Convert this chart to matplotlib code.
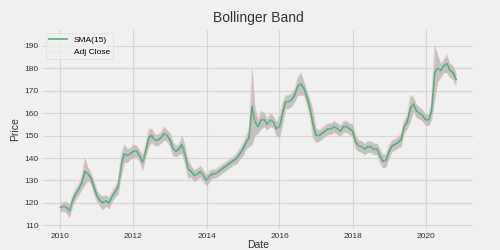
import numpy as np
import pandas as pd
import matplotlib
matplotlib.use('Agg')
import matplotlib.pyplot as plt

BG = '#f0f0f0'
GREEN = '#55ad7a'

# monthly values, Jan 2010 .. Nov 2020
months = pd.date_range('2010-01-01', '2020-11-01', freq='MS')

sma = [118, 118.5, 118, 116.5, 121, 124, 126, 129, 134, 133, 131, 127,
       123, 121, 120, 121, 120, 123, 125, 127, 137, 142, 141, 142,
       143, 143, 141, 138, 143, 149, 150, 148, 148, 149, 151, 150,
       148, 144, 143, 144, 146, 141, 135, 134, 132, 133, 134, 132,
       130, 132, 133, 133, 134, 135, 136, 137, 138, 139, 140, 142,
       144, 147, 149, 163, 156, 154, 157, 157, 155, 157, 156, 153,
       154, 160, 165, 165, 166, 168, 172, 173, 171, 167, 162, 155,
       150, 150, 151, 152, 153, 153, 154, 153, 152, 154, 154, 153,
       152, 147, 145.5, 145, 144, 145, 145, 144, 144, 141, 138.5, 139,
       143, 145.5, 146, 147, 148, 154, 156, 162, 164, 161, 160, 159,
       157, 157, 161, 178, 180, 179, 181, 182, 179, 178, 175]

close = [117, 119, 117, 117, 123, 125, 127, 131, 136, 132, 129, 125,
         122, 120, 118, 122, 121, 124, 126, 125, 140, 143, 140, 143,
         144, 142, 140, 137, 146, 151, 152, 147, 149, 150, 152, 149,
         146, 143, 144, 145, 148, 139, 134, 133, 131, 134, 135, 131,
         129, 133, 134, 132, 135, 136, 137, 138, 139, 140, 141, 143,
         146, 148, 151, 170, 154, 155, 158, 156, 154, 158, 155, 151,
         156, 163, 166, 164, 167, 170, 174, 172, 169, 165, 159, 151,
         149, 151, 152, 153, 154, 152, 155, 152, 153, 155, 153, 152,
         150, 145, 146, 144, 145, 146, 144, 145, 143, 139, 137, 141,
         145, 146, 147, 148, 151, 156, 158, 166, 163, 160, 161, 158,
         156, 158, 166, 184, 179, 180, 183, 181, 177, 176, 173]

# half width of the band (2 std)
band = [2, 2, 2.5, 3, 2.5, 2.5, 2.5, 3, 6, 3, 2.5, 3,
        2.5, 2.5, 3, 2.5, 2.5, 2.5, 2.5, 3, 5, 4, 3, 2.5,
        3, 2.5, 2.5, 3.5, 3, 4, 3, 2.5, 2.5, 2.5, 3, 2.5,
        3, 3, 2.5, 2.5, 4, 4, 4, 2.5, 2.5, 2.5, 2.5, 2.5,
        2.5, 2.5, 2, 2, 2, 2, 2, 2, 2, 2, 2.5, 2.5,
        3, 3, 4, 17, 6, 3, 4, 3, 2.5, 3, 2.5, 3,
        5, 5, 3, 3, 3, 3, 4, 5, 3, 3, 4, 6,
        3, 2.5, 2.5, 2.5, 2.5, 2.5, 2.5, 2.5, 2.5, 2.5, 2.5, 2.5,
        3, 3, 2.5, 2.5, 2.5, 2.5, 2.5, 2.5, 2.5, 3, 3, 3,
        3, 2.5, 2.5, 2.5, 3, 3, 3, 6, 3, 3, 2.5, 2.5,
        2.5, 2.5, 4, 12, 6, 3, 3, 4, 3, 3, 3]

df = pd.DataFrame({'SMA': sma, 'Adj Close': close, 'band': band}, index=months)
df['Upper'] = df['SMA'] + df['band']
df['Lower'] = df['SMA'] - df['band']

plt.rcParams['font.family'] = ['Liberation Sans', 'DejaVu Sans']

fig = plt.figure(figsize=(5, 2.5), dpi=100, facecolor=BG)
ax = fig.add_axes([0.086, 0.085, 0.86, 0.795], facecolor=BG)

ax.fill_between(df.index, df['Upper'], df['Lower'], color='#bdbdbd', alpha=0.9, lw=0)
ax.plot(df.index, df['Upper'], color='#f2b8c0', lw=0.5, alpha=0.6)
ax.plot(df.index, df['Lower'], color='#f2b8c0', lw=0.5, alpha=0.6)
ax.plot(df.index, df['SMA'], color=GREEN, lw=1.2, label='SMA(15)')
ax.plot(df.index, df['Adj Close'], color='#f5c9cf', lw=0.6, alpha=0.35, label='Adj Close')

ax.set_xlim(pd.Timestamp('2009-07-10'), pd.Timestamp('2021-04-20'))
ax.set_ylim(108.5, 197)
ax.set_yticks(np.arange(110, 191, 10))
ax.set_xticks([pd.Timestamp(f'{y}-01-01') for y in range(2010, 2021, 2)])
ax.set_xticklabels([str(y) for y in range(2010, 2021, 2)])

ax.grid(True, color='#d6d6d6', lw=0.8)
ax.set_axisbelow(True)
for s in ax.spines.values():
    s.set_visible(False)
ax.tick_params(length=0, labelsize=6, colors='#333333', pad=3)

ax.set_title('Bollinger Band', fontsize=10, color='#333333', pad=6)
ax.set_ylabel('Price', fontsize=7.5, color='#333333', labelpad=3)
ax.set_xlabel('Date', fontsize=7.5, color='#333333', labelpad=0)

leg = ax.legend(loc='upper left', fontsize=6, frameon=True, facecolor=BG,
                edgecolor='#dddddd', borderaxespad=0.3, handlelength=2.2)
leg.get_frame().set_linewidth(0.6)

fig.savefig('out.png', dpi=100, facecolor=BG)
